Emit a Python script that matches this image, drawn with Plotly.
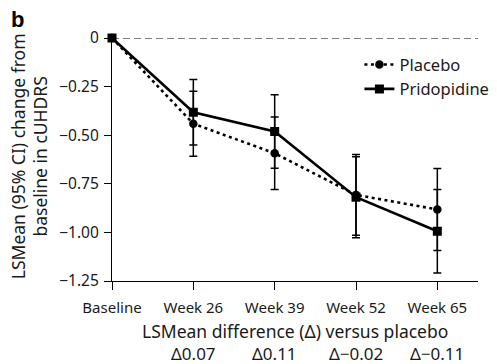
import plotly.graph_objects as go

categories = ["Baseline", "Week 26", "Week 39", "Week 52", "Week 65"]
placebo = [0, -0.441, -0.593, -0.807, -0.882]
placebo_ci = [0, 0.167, 0.186, 0.208, 0.211]
pridopidine = [0, -0.382, -0.481, -0.819, -0.994]
pridopidine_ci = [0, 0.168, 0.189, 0.208, 0.215]
delta_labels = ["Δ0.07", "Δ0.11", "Δ−0.02", "Δ−0.11"]
y_ticks = [0, -0.25, -0.5, -0.75, -1.0, -1.25]
y_ticktext = ["0", "−0.25", "−0.50", "−0.75", "−1.00", "−1.25"]

FONT = "Noto Sans"
INK = "#1a1a1a"
xpos = list(range(len(categories)))

fig = go.Figure()
fig.add_trace(go.Scatter(
    x=xpos, y=placebo, name="Placebo", mode="lines+markers",
    line=dict(color="black", width=2.6, dash="3px,3.5px"),
    marker=dict(symbol="circle", size=8.5, color="black"),
    error_y=dict(type="data", array=placebo_ci, color="black", thickness=1.5, width=4),
    cliponaxis=False,
))
fig.add_trace(go.Scatter(
    x=xpos, y=pridopidine, name="Pridopidine", mode="lines+markers",
    line=dict(color="black", width=2.6),
    marker=dict(symbol="square", size=9, color="black"),
    error_y=dict(type="data", array=pridopidine_ci, color="black", thickness=1.5, width=4),
    cliponaxis=False,
))

fig.add_shape(type="line", xref="x", yref="y", x0=0, x1=4.5, y0=0, y1=0,
              line=dict(color="black", width=1.2, dash="7px,4px"), layer="below")

annotations = []
for i, t in enumerate(delta_labels):
    annotations.append(dict(x=xpos[i + 1], y=0, xref="x", yref="paper", text=t,
                            showarrow=False, yanchor="middle", yshift=-72,
                            font=dict(family=FONT, size=17, color=INK)))
annotations.append(dict(x=2.25, y=0, xref="x", yref="paper",
                        text="LSMean difference (Δ) versus placebo",
                        showarrow=False, yanchor="middle", yshift=-50,
                        font=dict(family=FONT, size=17.5, color=INK)))
annotations.append(dict(x=-0.2271, y=0.513, xref="paper", yref="paper",
                        text="LSMean (95% CI) change from<br>baseline in cUHDRS",
                        textangle=-90, showarrow=False, xanchor="center", yanchor="middle",
                        font=dict(family=FONT, size=17.5, color=INK)))
annotations.append(dict(x=-0.258, y=1.076, xref="paper", yref="paper", text="<b>b</b>",
                        showarrow=False, xanchor="center", yanchor="middle",
                        font=dict(family="Liberation Sans", size=22, color="black")))

fig.update_layout(
    width=497, height=364,
    margin=dict(l=103.7, r=27, t=29.5, b=91.3, autoexpand=False),
    plot_bgcolor="white", paper_bgcolor="white",
    font=dict(family=FONT, color=INK),
    showlegend=True,
    legend=dict(x=0.676, y=0.962, xanchor="left", yanchor="top",
                font=dict(family=FONT, size=16.5, color=INK),
                bgcolor="rgba(0,0,0,0)", tracegroupgap=0, borderwidth=0),
    annotations=annotations,
    xaxis=dict(range=[0, 4.5], tickvals=xpos, ticktext=categories,
               showgrid=False, zeroline=False, showline=True, linecolor="black",
               linewidth=1.2, ticks="outside", ticklen=8, tickcolor="black",
               ticklabelstandoff=5,
               tickfont=dict(family=FONT, size=15, color=INK)),
    yaxis=dict(range=[-1.25, 0], tickvals=y_ticks, ticktext=y_ticktext,
               showgrid=False, zeroline=False, showline=True, linecolor="black",
               linewidth=1.2, ticks="outside", ticklen=7, tickcolor="black",
               ticklabelstandoff=2,
               tickfont=dict(family=FONT, size=15.5, color=INK)),
)

fig.write_html("out.html")
